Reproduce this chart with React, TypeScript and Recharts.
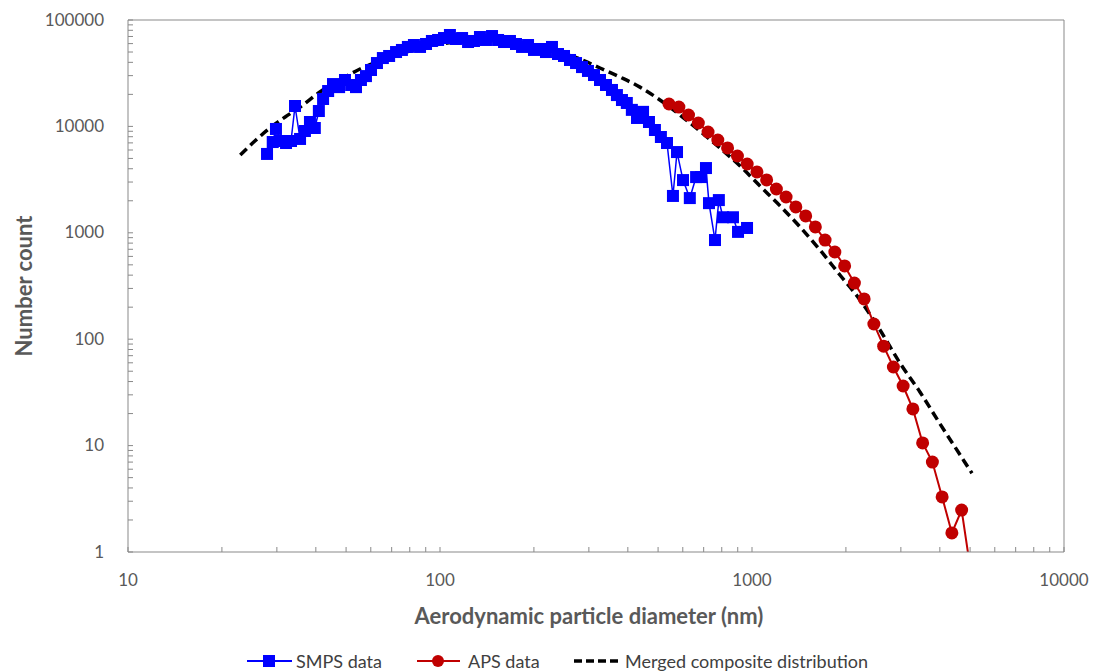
import React from 'react';
import { LineChart, Line, XAxis, YAxis, ReferenceLine } from 'recharts';

// SMPS data (diameter nm, number count)
const SMPS_D = [27.9, 29.1, 29.8, 30.9, 32.1, 33.3, 34.3, 35.6, 36.9, 38.3, 39.7, 40.9, 42.2, 43.8, 45.4, 47.5, 49.6, 51.9, 53.8, 55.8, 57.9, 60.1, 62.8, 65.6, 68.7, 72.3, 75.5, 78.9, 82.5, 86.3, 90.2, 94.2, 98.6, 103, 107.6, 112.5, 117.7, 123, 128.5, 134.3, 140.4, 146.8, 153.5, 160.4, 167.6, 175.2, 183.2, 191.5, 200.1, 209.2, 218.6, 228.5, 238.9, 249.7, 261, 272.9, 285.2, 298, 311.6, 325.7, 340.4, 355.8, 369, 383, 397, 412, 428, 447.5, 467.5, 488.5, 510.5, 534, 558, 575, 601, 632, 662, 687, 712, 728, 761, 783, 807, 869, 902, 964];
const SMPS_N = [5510, 7130, 9460, 7290, 6980, 7290, 15550, 7620, 9050, 11000, 9660, 13950, 18100, 21500, 25000, 23400, 27300, 24500, 23400, 27300, 29700, 33900, 39400, 43900, 45900, 50000, 52300, 55800, 58200, 55800, 59500, 63500, 64900, 67700, 72300, 66300, 67700, 62100, 63500, 69200, 64900, 70700, 64900, 62100, 63500, 59500, 55800, 58200, 52300, 53400, 50000, 55800, 47900, 45900, 42100, 39400, 36100, 33200, 30400, 27300, 24500, 22000, 19700, 17700, 16600, 14300, 12000, 13700, 11000, 9250, 7950, 6980, 2220, 5740, 3130, 2120, 3340, 3340, 4060, 1900, 855, 2030, 1400, 1400, 1020, 1110];

// APS data
const APS_D = [542, 583, 626, 673, 723, 777, 835, 898, 965, 1037, 1114, 1197, 1286, 1382, 1486, 1596, 1715, 1843, 1981, 2129, 2288, 2458, 2642, 2839, 3051, 3278, 3523, 3786, 4068, 4371, 4698, 5048];
const APS_N = [16240, 15200, 12800, 10760, 8860, 7450, 6270, 5270, 4430, 3730, 3140, 2580, 2170, 1750, 1440, 1135, 855, 660, 488, 337, 239, 139, 86, 54.8, 36.3, 22.1, 10.6, 7.0, 3.29, 1.51, 2.48, 0.6];

// Merged composite distribution
const MERGED_D = [22.9, 25.5, 28.5, 31.9, 35.6, 41.2, 47.8, 55.4, 64.2, 74.4, 86.3, 100, 115.9, 134.3, 155.7, 180.4, 209.2, 242.4, 281, 325.7, 377.5, 437.5, 507, 587.6, 681, 789, 916, 1061, 1230, 1425, 1652, 1914, 2219, 2572, 2980, 3454, 4005, 4642, 5070];
const MERGED_N = [5380, 7290, 9660, 12250, 15200, 21050, 27300, 34600, 41200, 47900, 54500, 59500, 62100, 64900, 63500, 60800, 55800, 50000, 43000, 35400, 29100, 23400, 17700, 12800, 9050, 6270, 4250, 2750, 1790, 1135, 689, 401, 234, 122, 59.7, 31.9, 16.0, 8.2, 5.5];

const X_TICKS = [10, 20, 30, 40, 50, 60, 70, 80, 90, 100, 200, 300, 400, 500, 600, 700, 800, 900, 1000, 2000, 3000, 4000, 5000, 6000, 7000, 8000, 9000, 10000];
const Y_TICKS = [1, 2, 3, 4, 5, 6, 7, 8, 9, 10, 20, 30, 40, 50, 60, 70, 80, 90, 100, 200, 300, 400, 500, 600, 700, 800, 900, 1000, 2000, 3000, 4000, 5000, 6000, 7000, 8000, 9000, 10000, 20000, 30000, 40000, 50000, 60000, 70000, 80000, 90000, 100000];

const smpsData = SMPS_D.map((d, i) => ({ d, v: SMPS_N[i] }));
const apsData = APS_D.map((d, i) => ({ d, v: APS_N[i] }));
const mergedData = MERGED_D.map((d, i) => ({ d, v: MERGED_N[i] }));

const FONT = 'Lato, "Open Sans", sans-serif';
const AXIS = '#898989';
const TXT = '#595959';

const isPow10 = (v: number) => Math.abs(Math.log10(v) - Math.round(Math.log10(v))) < 1e-9;

const YTick = (props: any) => {
  const { x, y, payload } = props;
  const v = payload.value;
  return (
    <g>
      <line x1={x} x2={x + 5} y1={y} y2={y} stroke={AXIS} strokeWidth={1} />
      {isPow10(v) && (
        <text x={x - 24} y={y} dy="0.33em" textAnchor="end" fill={TXT} fontSize={17} fontFamily={FONT}>
          {v}
        </text>
      )}
    </g>
  );
};

const XTick = (props: any) => {
  const { x, y, payload } = props;
  const v = payload.value;
  return (
    <g>
      <line x1={x} x2={x} y1={y} y2={y - 5} stroke={AXIS} strokeWidth={1} />
      {isPow10(v) && (
        <text x={x} y={y + 28} dy="0.35em" textAnchor="middle" fill={TXT} fontSize={17} fontFamily={FONT}>
          {v}
        </text>
      )}
    </g>
  );
};

const SquareDot = (p: any) => {
  if (p.cx == null || p.cy == null) return <g key={`sq${p.index}`} />;
  return <rect key={`sq${p.index}`} x={p.cx - 6} y={p.cy - 6} width={12} height={12} fill="#0000FF" />;
};

const YLabel = () => (
  <text x={15} y={278} transform="rotate(-90, 15, 278)" textAnchor="middle" dominantBaseline="central" fill={TXT} fontSize={22} fontWeight={700} fontFamily={FONT}>
    Number count
  </text>
);

const XLabel = () => (
  <text x={581} y={607} textAnchor="middle" dominantBaseline="central" fill={TXT} fontSize={22} fontWeight={700} fontFamily={FONT}>
    Aerodynamic particle diameter (nm)
  </text>
);

export default function App() {
  return (
    <div style={{ position: 'relative', width: 1082, height: 664 }}>
      <LineChart width={1082} height={664} margin={{ top: 12, right: 26, bottom: 60, left: 0 }}>
        <XAxis
          dataKey="d"
          type="number"
          scale="log"
          domain={[10, 10000]}
          allowDataOverflow
          ticks={X_TICKS}
          interval={0}
          tickSize={0}
          tickMargin={0}
          tick={<XTick />}
          stroke={AXIS}
          height={60}
          label={<XLabel />}
        />
        <YAxis
          dataKey="v"
          type="number"
          scale="log"
          domain={[1, 100000]}
          allowDataOverflow
          ticks={Y_TICKS}
          interval={0}
          tickSize={0}
          tickMargin={0}
          tick={<YTick />}
          stroke={AXIS}
          width={120}
          label={<YLabel />}
        />
        <ReferenceLine y={100000} stroke={AXIS} strokeWidth={1} />
        <ReferenceLine x={10000} stroke={AXIS} strokeWidth={1} />
        <Line
          data={smpsData}
          dataKey="v"
          type="linear"
          stroke="#0000FF"
          strokeWidth={1.5}
          dot={SquareDot}
          activeDot={false}
          isAnimationActive={false}
        />
        <Line
          data={mergedData}
          dataKey="v"
          type="monotone"
          stroke="#000000"
          strokeWidth={3.5}
          strokeDasharray="9 5"
          dot={false}
          activeDot={false}
          isAnimationActive={false}
        />
        <Line
          data={apsData}
          dataKey="v"
          type="linear"
          stroke="#C00000"
          strokeWidth={2}
          dot={{ r: 6.5, fill: '#C00000', stroke: '#C00000', strokeWidth: 0 }}
          activeDot={false}
          isAnimationActive={false}
        />
      </LineChart>
      <svg width={1082} height={26} style={{ position: 'absolute', left: 0, top: 640 }}>
        <g fontFamily={FONT} fontSize={18} fill="#404040">
          <line x1={239} x2={284} y1={13} y2={13} stroke="#0000FF" strokeWidth={2} />
          <rect x={255} y={7} width={12} height={12} fill="#0000FF" />
          <text x={288} y={13} dominantBaseline="central">SMPS data</text>
          <line x1={409} x2={452} y1={13} y2={13} stroke="#C00000" strokeWidth={2} />
          <circle cx={430} cy={13} r={6} fill="#C00000" />
          <text x={460} y={13} dominantBaseline="central">APS data</text>
          <line x1={566} x2={614} y1={13} y2={13} stroke="#000000" strokeWidth={3.5} strokeDasharray="8 4" />
          <text x={617} y={13} dominantBaseline="central">Merged composite distribution</text>
        </g>
      </svg>
    </div>
  );
}
